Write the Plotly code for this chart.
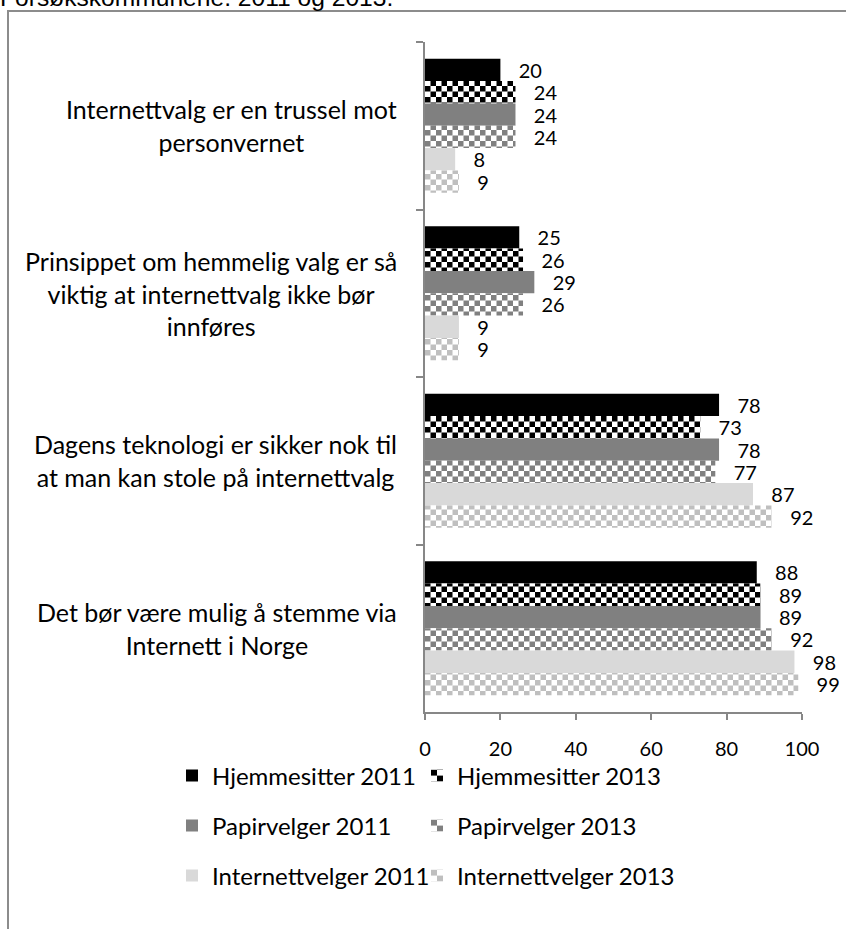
import plotly.graph_objects as go

categories = [
    "Internettvalg er en trussel mot<br>personvernet",
    "Prinsippet om hemmelig valg er så<br>viktig at internettvalg ikke bør<br>innføres",
    "Dagens teknologi er sikker nok til<br>at man kan stole på internettvalg",
    "Det bør være mulig å stemme via<br>Internett i Norge",
]
series_names = [
    "Hjemmesitter 2011", "Hjemmesitter 2013",
    "Papirvelger 2011", "Papirvelger 2013",
    "Internettvelger 2011", "Internettvelger 2013",
]
hjemmesitter_2011 = [20, 25, 78, 88]
hjemmesitter_2013 = [24, 26, 73, 89]
papirvelger_2011 = [24, 29, 78, 89]
papirvelger_2013 = [24, 26, 77, 92]
internettvelger_2011 = [8, 9, 87, 98]
internettvelger_2013 = [9, 9, 92, 99]
x_ticks = [0, 20, 40, 60, 80, 100]
title_text = "Forsøkskommunene. 2011 og 2013."

values = [hjemmesitter_2011, hjemmesitter_2013, papirvelger_2011,
          papirvelger_2013, internettvelger_2011, internettvelger_2013]
colors = ["#000000", "#000000", "#808080", "#808080", "#d9d9d9", "#bfbfbf"]
checkered = [False, True, False, True, False, True]
legends = ["legend", "legend", "legend2", "legend2", "legend3", "legend3"]

W, H = 846, 929
L, R, T, B = 425, 44, 42, 217
pw, ph = W - L - R, H - T - B

def px2x(px):
    return (px - L) / pw

def px2y(py):
    return (H - B - py) / ph

FONT = "Lato"
NB = "\u00a0\u00a0\u00a0"

fig = go.Figure()
for name, vals, col, chk, lg in zip(series_names, values, colors, checkered, legends):
    marker = dict(color=col, line=dict(width=0))
    if chk:
        marker["pattern"] = dict(shape="+", fgcolor=col, bgcolor="#ffffff",
                                 size=11, solidity=0.5, fillmode="replace")
    fig.add_trace(go.Bar(
        name=name, y=categories, x=vals, orientation="h", marker=marker,
        text=[NB + str(v) for v in vals], textposition="outside",
        textfont=dict(family=FONT, size=20, color="#000000"),
        constraintext="none", cliponaxis=False, legend=lg,
        legendwidth=(270 if chk else 200),
        hoverinfo="skip",
    ))

axis_col = "#878787"
fig.update_layout(
    width=W, height=H,
    margin=dict(l=L, r=R, t=T, b=B, autoexpand=False),
    paper_bgcolor="#ffffff", plot_bgcolor="#ffffff",
    barmode="group", bargap=0.2, bargroupgap=0,
    font=dict(family=FONT, color="#000000"),
    xaxis=dict(range=[0, 100], tickvals=x_ticks, showgrid=False, zeroline=False,
               showline=True, linecolor=axis_col, linewidth=1.5,
               ticks="outside", ticklen=6, tickcolor=axis_col, tickwidth=1.5,
               tickfont=dict(family=FONT, size=20, color="#000000"),
               ticklabelstandoff=12),
    yaxis=dict(autorange="reversed", showticklabels=False, showgrid=False,
               zeroline=False, showline=True, linecolor=axis_col, linewidth=1.5,
               ticks="outside", ticklen=7, tickcolor=axis_col, tickwidth=1.5,
               tickson="boundaries"),
)

leg_common = dict(orientation="h", xref="paper", yref="paper", xanchor="left",
                  yanchor="middle", entrywidthmode="pixels",
                  bgcolor="rgba(0,0,0,0)",
                  font=dict(family=FONT, size=24, color="#000000"))
fig.update_layout(
    legend=dict(x=px2x(172), y=px2y(776), **leg_common),
    legend2=dict(x=px2x(172), y=px2y(826), **leg_common),
    legend3=dict(x=px2x(172), y=px2y(876), **leg_common),
)

for cat in categories:
    fig.add_annotation(x=px2x(399), xref="paper", y=cat, yref="y",
                       text=cat, showarrow=False, xanchor="right", yanchor="middle",
                       align="center", font=dict(family=FONT, size=25, color="#000000"))

fig.add_annotation(x=px2x(-2), xref="paper", y=px2y(-2), yref="paper",
                   text=title_text, showarrow=False, xanchor="left", yanchor="middle",
                   font=dict(family="Liberation Sans", size=24.6, color="#000000"))

frame_col = "#8c8c8c"
fig.add_shape(type="line", xref="paper", yref="paper",
              x0=px2x(8), x1=px2x(8), y0=px2y(11), y1=px2y(940),
              line=dict(color=frame_col, width=2))
fig.add_shape(type="line", xref="paper", yref="paper",
              x0=px2x(7), x1=px2x(860), y0=px2y(11), y1=px2y(11),
              line=dict(color=frame_col, width=2))

post_js = """
(function(){
  document.body.style.margin = '0';
  document.body.style.overflow = 'hidden';
  var gd = document.getElementById('{plot_id}');
  var NS = 'http://www.w3.org/2000/svg';
  function checker(){
    var pats = document.querySelectorAll('pattern');
    pats.forEach(function(p){
      if (p.getAttribute('data-chk') === '1') return;
      var r = p.querySelector('rect');
      var bg = r ? r.getAttribute('fill') : '#ffffff';
      var f = p.querySelector('path, circle');
      var fg = '#000000';
      if (f) { fg = f.getAttribute('stroke'); if (!fg || fg === 'none') fg = f.getAttribute('fill'); }
      while (p.firstChild) p.removeChild(p.firstChild);
      var tr = p.getAttribute('patternTransform') || '';
      var s = (tr.indexOf('scale') >= 0) ? 15 : 11;
      var h = s / 2;
      p.setAttribute('width', s); p.setAttribute('height', s);
      var b = document.createElementNS(NS, 'rect');
      b.setAttribute('width', s); b.setAttribute('height', s); b.setAttribute('fill', bg);
      p.appendChild(b);
      [[0,0],[h,h]].forEach(function(o){
        var q = document.createElementNS(NS, 'rect');
        q.setAttribute('x', o[0]); q.setAttribute('y', o[1]);
        q.setAttribute('width', h); q.setAttribute('height', h);
        q.setAttribute('fill', fg);
        p.appendChild(q);
      });
      p.setAttribute('data-chk', '1');
    });
  }
  checker();
  if (gd && gd.on) gd.on('plotly_afterplot', checker);
})();
"""

fig.write_html("out.html", post_script=post_js, config={"displayModeBar": False})
